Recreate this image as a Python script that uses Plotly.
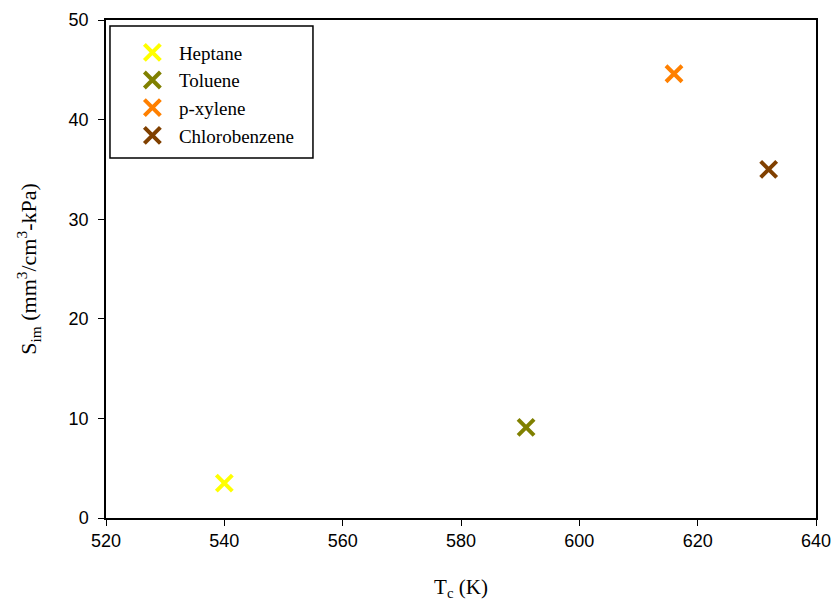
import plotly.graph_objects as go

names = ["Heptane", "Toluene", "p-xylene", "Chlorobenzene"]
tc = [540, 591, 616, 632]
sim = [3.5, 9.1, 44.6, 35.0]
colors = ["#FFFF00", "#808000", "#FF8000", "#804000"]

fig = go.Figure()
for n, x, y, c in zip(names, tc, sim, colors):
    fig.add_trace(go.Scatter(
        x=[x], y=[y], mode="markers", name=n,
        marker=dict(symbol="x-thin", size=16, color=c, line=dict(color=c, width=4)),
    ))

serif = "Liberation Serif, Times New Roman, serif"
sans = "Liberation Sans, Arial, sans-serif"

axis_common = dict(
    showline=True, linecolor="black", linewidth=1.5, mirror=True,
    ticks="outside", ticklen=6, tickcolor="black", tickwidth=1,
    showgrid=False, zeroline=False, automargin=False,
    tickfont=dict(family=sans, size=18, color="black"),
)
fig.update_xaxes(range=[520, 640], dtick=20, tick0=520,
                 title=dict(text="T<sub>c</sub> (K)", font=dict(family=serif, size=21, color="black"), standoff=29),
                 **axis_common)
fig.update_yaxes(range=[0, 50], dtick=10, tick0=0, ticklabelstandoff=6,
                 title=dict(text="S<sub>im</sub> (mm<sup>3</sup>/cm<sup>3</sup>-kPa)", font=dict(family=serif, size=22, color="black"), standoff=26),
                 **axis_common)
fig.add_shape(type="rect", xref="paper", yref="paper",
              x0=0.0056, x1=0.2915, y0=0.7229, y1=0.988,
              line=dict(color="black", width=1.5), fillcolor="rgba(0,0,0,0)", layer="above")
fig.update_layout(
    width=836, height=607,
    margin=dict(l=106, r=20, t=20, b=89),
    plot_bgcolor="white", paper_bgcolor="white",
    legend=dict(x=0.028, y=0.973, xanchor="left", yanchor="top",
                borderwidth=0, bgcolor="rgba(0,0,0,0)",
                font=dict(family=serif, size=19, color="black"),
                itemwidth=43, tracegroupgap=0),
    showlegend=True,
)
fig.write_html("out.html")
